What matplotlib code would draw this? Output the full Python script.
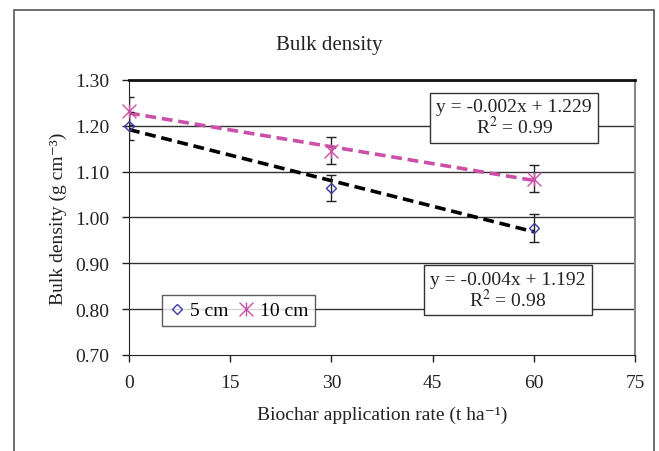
import numpy as np
import matplotlib.pyplot as plt
from matplotlib.patches import Rectangle
from matplotlib.path import Path

plt.rcParams['font.family'] = ['Liberation Serif', 'DejaVu Serif']
plt.rcParams['mathtext.fontset'] = 'stix'

# data
rate = [0, 30, 60]
bd_5cm = [1.200, 1.064, 0.977]
err_5cm = [0.031, 0.029, 0.030]
bd_10cm = [1.232, 1.146, 1.085]
err_10cm = [0.031, 0.029, 0.030]
eq_5cm = 'y = -0.004x + 1.192\nR$^2$ = 0.98'
eq_10cm = 'y = -0.002x + 1.229\nR$^2$ = 0.99'

blue = '#3a3aa8'
pink = '#cc4fa8'
fs = 14

# excel-style star: an x with a vertical bar
star = Path([(-1, -1), (1, 1), (-1, 1), (1, -1), (0, -1), (0, 1)],
            [Path.MOVETO, Path.LINETO, Path.MOVETO, Path.LINETO, Path.MOVETO, Path.LINETO])

fig = plt.figure(figsize=(6.59, 4.52), dpi=100)
ax = fig.add_axes([0.1958, 0.2124, 0.7678, 0.6084])

# outer frame
fig.patches.append(Rectangle((14 / 659, -0.1), 640 / 659, 1.1 - 11 / 452, transform=fig.transFigure,
                             fill=False, edgecolor='#555555', linewidth=1.2))

for y in np.arange(0.8, 1.25, 0.1):
    ax.axhline(y, color='#333333', lw=1.0, zorder=1)

# trendlines
x = np.array(rate, dtype=float)
for vals, col in [(bd_5cm, 'black'), (bd_10cm, pink)]:
    k, b = np.polyfit(x, vals, 1)
    ax.plot(x, k * x + b, '--', color=col, lw=2.6, dashes=(3, 1.6), zorder=3)

ax.errorbar(rate, bd_5cm, yerr=err_5cm, fmt='none', ecolor='#222222', elinewidth=1, capsize=3.5, capthick=1, zorder=4)
ax.errorbar(rate, bd_10cm, yerr=err_10cm, fmt='none', ecolor='#222222', elinewidth=1, capsize=3.5, capthick=1, zorder=4)
ax.plot(rate, bd_5cm, linestyle='none', marker='D', ms=5, mfc='none', mec=blue, mew=1, label='5 cm', zorder=5, clip_on=False)
ax.plot(rate, bd_10cm, linestyle='none', marker=star, ms=10, mec=pink, mew=1, color=pink, label='10 cm',
        zorder=5, clip_on=False)

ax.set_xlim(0, 75)
ax.set_ylim(0.7, 1.3)
ax.set_xticks(np.arange(0, 76, 15))
ax.set_yticks(np.arange(0.7, 1.31, 0.1))
ax.set_yticklabels([f'{v:.2f}' for v in np.arange(0.7, 1.31, 0.1)])
ax.tick_params(direction='out', length=5, width=1, labelsize=fs, colors='#222222')
ax.tick_params(axis='x', pad=9)
ax.tick_params(axis='y', pad=9)

ax.spines['top'].set_linewidth(2)
ax.spines['top'].set_color('#111111')
ax.spines['right'].set_color('#888888')
ax.spines['right'].set_linewidth(1.5)
ax.spines['left'].set_color('#222222')
ax.spines['bottom'].set_color('#222222')

ax.set_xlabel('Biochar application rate (t ha\u207b\u00b9)', fontsize=fs, labelpad=10, color='#222222')
ax.set_ylabel('Bulk density (g cm\u207b\u00b3)', fontsize=fs, labelpad=6, color='#222222')
fig.text(0.5, 0.90, 'Bulk density', ha='center', va='center', fontsize=fs + 1, color='#222222')

box = dict(boxstyle='square,pad=0.3', fc='white', ec='#333333', lw=1)
ax.text(0.761, 0.862, eq_10cm, transform=ax.transAxes, ha='center', va='center', fontsize=fs,
        bbox=box, linespacing=1.0, zorder=6, color='#222222')
ax.text(0.749, 0.236, eq_5cm, transform=ax.transAxes, ha='center', va='center', fontsize=fs,
        bbox=box, linespacing=1.0, zorder=6, color='#222222')

leg = ax.legend(loc='lower left', bbox_to_anchor=(0.065, 0.105), borderaxespad=0, ncol=2, fontsize=fs,
                frameon=True, fancybox=False, edgecolor='#333333', handlelength=0.8, handletextpad=0.3,
                columnspacing=0.5, borderpad=0.35)
leg.get_frame().set_linewidth(1)
leg.set_zorder(6)

fig.savefig('out.png', dpi=100)
